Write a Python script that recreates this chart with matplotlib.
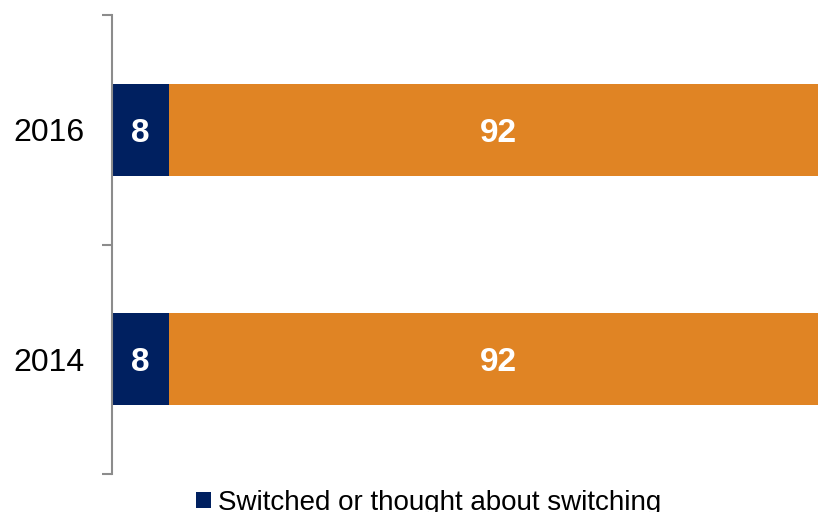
import matplotlib
matplotlib.use("Agg")
import matplotlib.pyplot as plt
from matplotlib.ticker import FixedLocator
import numpy as np

plt.rcParams['font.family'] = ['Liberation Sans', 'DejaVu Sans']

# data
years = ['2014', '2016']
switched = [8, 8]
not_switched = [92, 92]
legend_label = 'Switched or thought about switching'

navy = '#002060'
orange = '#E08424'


def main():
	fig = plt.figure(figsize=(8.18, 5.12), dpi=100)
	ax = fig.add_axes([112 / 818., 1 - 474 / 512., 1 - 112 / 818., (474 - 15) / 512.])

	y = np.arange(len(years))
	b1 = ax.barh(y, switched, height=0.4, color=navy, label=legend_label)
	b2 = ax.barh(y, not_switched, left=switched, height=0.4, color=orange)

	for vals, lefts in ((switched, [0] * len(years)), (not_switched, switched)):
		for yi, v, l in zip(y, vals, lefts):
			ax.text(l + v / 2., yi, str(v), ha='center', va='center_baseline', color='white',
				fontsize=24, fontweight='bold')

	# orange bar runs past the right edge of the picture
	ax.set_xlim(0, 98.6)
	ax.set_ylim(-0.5, 1.5)
	ax.set_yticks(y)
	ax.set_yticklabels(years, fontsize=23, va='center_baseline')
	ax.tick_params(axis='y', which='major', length=0, pad=20)
	ax.yaxis.set_minor_locator(FixedLocator([-0.5, 0.5, 1.5]))
	ax.tick_params(axis='y', which='minor', length=7, width=1.5, color='#8c8c8c')
	ax.set_xticks([])
	for s in ('top', 'right', 'bottom'):
		ax.spines[s].set_visible(False)
	ax.spines['left'].set_color('#8c8c8c')
	ax.spines['left'].set_linewidth(1.5)

	fig.legend(handles=[b1], labels=[legend_label], loc='upper left',
		bbox_to_anchor=(182 / 818., 1 - 476 / 512.), frameon=False, fontsize=20,
		handlelength=0.53, handleheight=0.53, handletextpad=0.28, borderpad=0)

	fig.savefig('out.png', dpi=100)


if __name__ == '__main__':
	main()
